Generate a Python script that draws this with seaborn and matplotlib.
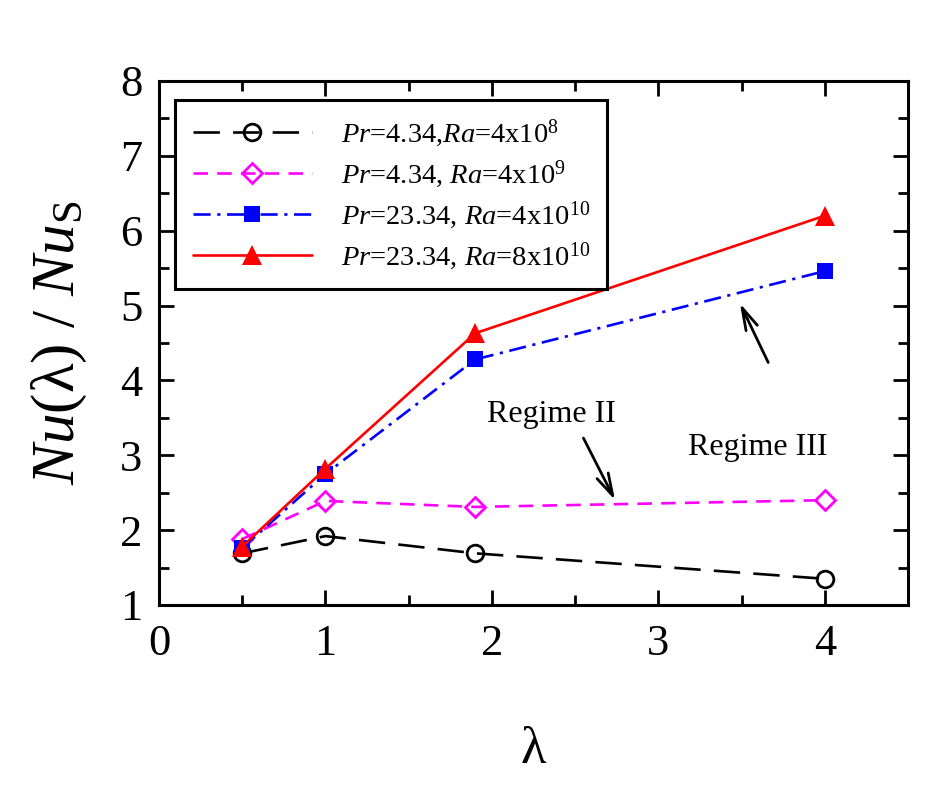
import numpy as np
import pandas as pd
import matplotlib
matplotlib.use("Agg")
import matplotlib.pyplot as plt
import seaborn as sns
from matplotlib.ticker import MultipleLocator

# --- data ---
lam = [0.5, 1.0, 1.9, 4.0]
nu_pr434_ra4e8 = [1.69, 1.92, 1.69, 1.35]
nu_pr434_ra4e9 = [1.88, 2.39, 2.31, 2.40]
nu_pr2334_ra4e10 = [1.76, 2.75, 4.28, 5.46]
nu_pr2334_ra8e10 = [1.78, 2.82, 4.63, 6.20]

labels = [
    r"$\it{Pr}$=4.34,$\it{Ra}$=4x10$^{8}$",
    r"$\it{Pr}$=4.34, $\it{Ra}$=4x10$^{9}$",
    r"$\it{Pr}$=23.34, $\it{Ra}$=4x10$^{10}$",
    r"$\it{Pr}$=23.34, $\it{Ra}$=8x10$^{10}$",
]

sns.set_style("ticks")
plt.rcParams["font.family"] = ["Liberation Serif", "DejaVu Serif"]
plt.rcParams["mathtext.fontset"] = "custom"
plt.rcParams["mathtext.rm"] = "Liberation Serif"
plt.rcParams["mathtext.it"] = "Liberation Serif:italic"
plt.rcParams["mathtext.bf"] = "Liberation Serif:bold"
for key in ["text.color", "axes.labelcolor", "xtick.color", "ytick.color", "axes.edgecolor"]:
    plt.rcParams[key] = "black"

fig = plt.figure(figsize=(9.53, 7.86), dpi=100)
ax = fig.add_axes([0.1668, 0.2303, 0.7860, 0.6667])

styles = [
    dict(color="black", marker="o", markersize=12, markerfacecolor="none",
         markeredgecolor="black", markeredgewidth=2, linestyle=(0, (10, 5))),
    dict(color="#ff00ff", marker="D", markersize=10.5, markerfacecolor="none",
         markeredgecolor="#ff00ff", markeredgewidth=2, linestyle=(0, (5.5, 3.5))),
    dict(color="#0000ff", marker="s", markersize=11.5, markeredgewidth=0,
         markerfacecolor="#0000ff", linestyle=(0, (6.5, 2.5, 1.2, 2.5))),
    dict(color="#ff0000", marker="^", markersize=14, markeredgewidth=0,
         markerfacecolor="#ff0000", linestyle="-"),
]
series = [nu_pr434_ra4e8, nu_pr434_ra4e9, nu_pr2334_ra4e10, nu_pr2334_ra8e10]

for y, lab, st in zip(series, labels, styles):
    df = pd.DataFrame({"lam": lam, "nu": y})
    sns.lineplot(data=df, x="lam", y="nu", ax=ax, label=lab, linewidth=1.9, **st)

ax.set_xlim(0, 4.5)
ax.set_ylim(1, 8)
ax.xaxis.set_major_locator(MultipleLocator(1))
ax.xaxis.set_minor_locator(MultipleLocator(0.5))
ax.yaxis.set_major_locator(MultipleLocator(1))
ax.yaxis.set_minor_locator(MultipleLocator(0.5))
ax.tick_params(which="both", direction="in", top=True, right=True, width=2)
ax.tick_params(which="major", length=11, labelsize=32)
ax.tick_params(which="minor", length=7)
ax.tick_params(axis="x", which="major", pad=14)
ax.tick_params(axis="y", which="major", pad=12)
for s in ax.spines.values():
    s.set_linewidth(2.2)

ax.set_xlabel("λ", fontsize=38, labelpad=44)
ax.set_ylabel(r"$\it{Nu}$(λ) / $\it{Nu}_{\mathrm{S}}$", fontsize=44, labelpad=22)

leg = ax.legend(loc="upper left", bbox_to_anchor=(0.022, 0.963), fontsize=20.5,
                frameon=True, fancybox=False, edgecolor="black", framealpha=1,
                handlelength=4.2, handletextpad=1.0, labelspacing=0.33,
                borderpad=0.6, borderaxespad=0)
leg.get_frame().set_linewidth(2.2)

arrow = dict(arrowstyle="->,head_length=1.6,head_width=0.45",
             color="black", lw=2, shrinkA=0, shrinkB=0)
ax.text(2.36, 3.54, "Regime II", fontsize=23, ha="center", va="center")
ax.annotate("", xy=(2.74, 2.40), xytext=(2.55, 3.23), arrowprops=arrow)
ax.text(3.6, 3.10, "Regime III", fontsize=23, ha="center", va="center")
ax.annotate("", xy=(3.49, 5.03), xytext=(3.66, 4.24), arrowprops=arrow)

fig.savefig("out.png", dpi=100)
